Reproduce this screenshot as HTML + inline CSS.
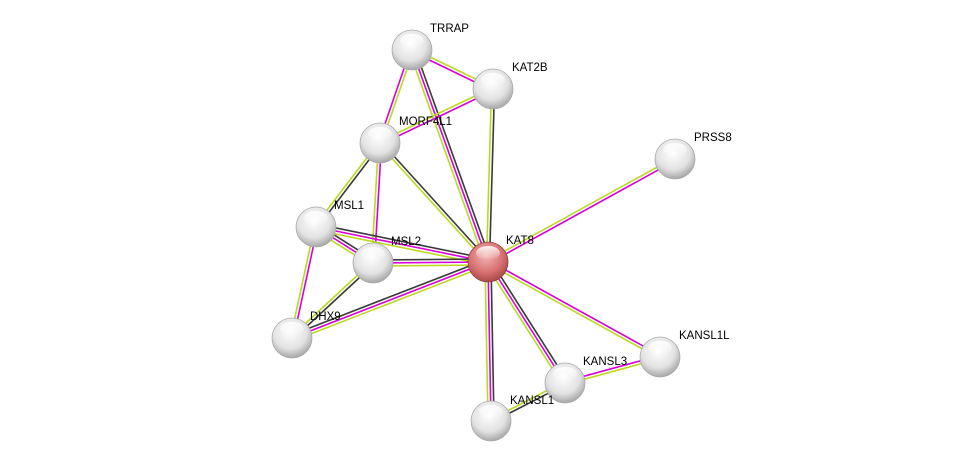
<!DOCTYPE html>
<html><head><meta charset="utf-8"><style>
html,body{margin:0;padding:0;background:#fff;}
svg{display:block;}
text{font-family:"Liberation Sans",sans-serif;font-size:11.5px;fill:#000;}
</style></head><body>
<svg id="s" width="976" height="467" viewBox="0 0 976 467">
<defs>
<radialGradient id="g" cx="0.45" cy="0.35" r="0.7">
<stop offset="0" stop-color="#ffffff"/><stop offset="0.6" stop-color="#e2e2e2"/><stop offset="1" stop-color="#9a9a9a"/></radialGradient>
<radialGradient id="r" cx="0.45" cy="0.35" r="0.7">
<stop offset="0" stop-color="#f4b4b4"/><stop offset="0.6" stop-color="#d87070"/><stop offset="1" stop-color="#a04040"/></radialGradient>
<linearGradient id="h" x1="0" y1="0" x2="0" y2="1"><stop offset="0" stop-color="#fff" stop-opacity="0.9"/><stop offset="1" stop-color="#fff" stop-opacity="0"/></linearGradient>
</defs>
<g id="edges"></g>
<g id="nodes"></g>
<text x="430" y="32">TRRAP</text>
<text x="512" y="71">KAT2B</text>
<text x="399" y="125">MORF4L1</text>
<text x="694" y="141">PRSS8</text>
<text x="334" y="209">MSL1</text>
<text x="391" y="245">MSL2</text>
<text x="506" y="244">KAT8</text>
<text x="310" y="320">DHX9</text>
<text x="679" y="339">KANSL1L</text>
<text x="583" y="365">KANSL3</text>
<text x="510" y="404">KANSL1</text>
</svg>
<script>
var N={TRRAP:[412,50],KAT2B:[493,89],MORF4L1:[380,143],PRSS8:[675,159],MSL1:[316,227],MSL2:[373,263],KAT8:[488,262],DHX9:[292,338],KANSL1L:[660,357],KANSL3:[565,383],KANSL1:[491,421]};
var C={k:"#3a3a3a",m:"#d800d8",y:"#bcd820"};
var E=[["TRRAP","KAT2B","ym"],["TRRAP","MORF4L1","ym"],["TRRAP","KAT8","kmy"],["KAT2B","MORF4L1","my"],["KAT2B","KAT8","ky"],["MORF4L1","KAT8","ky"],["MORF4L1","MSL1","ky"],["MORF4L1","MSL2","my"],["PRSS8","KAT8","my"],["MSL1","MSL2","kmy"],["MSL1","KAT8","kmy"],["MSL1","DHX9","my"],["MSL2","KAT8","kmy"],["MSL2","DHX9","ky"],["DHX9","KAT8","kmy"],["KAT8","KANSL1L","my"],["KAT8","KANSL3","kmy"],["KAT8","KANSL1","kmy"],["KANSL3","KANSL1L","my"],["KANSL3","KANSL1","ky"]];
var ns="http://www.w3.org/2000/svg",eg=document.getElementById("edges"),ng=document.getElementById("nodes");
E.forEach(function(e){var a=N[e[0]],b=N[e[1]],dx=b[0]-a[0],dy=b[1]-a[1],L=Math.hypot(dx,dy),px=-dy/L,py=dx/L,n=e[2].length;
for(var i=0;i<n;i++){var o=(i-(n-1)/2)*3,l=document.createElementNS(ns,"line");
l.setAttribute("x1",a[0]+px*o);l.setAttribute("y1",a[1]+py*o);l.setAttribute("x2",b[0]+px*o);l.setAttribute("y2",b[1]+py*o);
l.setAttribute("stroke",C[e[2][i]]);l.setAttribute("stroke-width","1.6");eg.appendChild(l);}});
for(var k in N){var p=N[k],c=document.createElementNS(ns,"circle");c.setAttribute("cx",p[0]);c.setAttribute("cy",p[1]);c.setAttribute("r",20);
c.setAttribute("fill",k=="KAT8"?"url(#r)":"url(#g)");c.setAttribute("stroke",k=="KAT8"?"#904040":"#aaa");c.setAttribute("stroke-width","0.8");ng.appendChild(c);
var h=document.createElementNS(ns,"ellipse");h.setAttribute("cx",p[0]);h.setAttribute("cy",p[1]-9);h.setAttribute("rx",12);h.setAttribute("ry",7);h.setAttribute("fill","url(#h)");ng.appendChild(h);}
</script>
</body></html>
